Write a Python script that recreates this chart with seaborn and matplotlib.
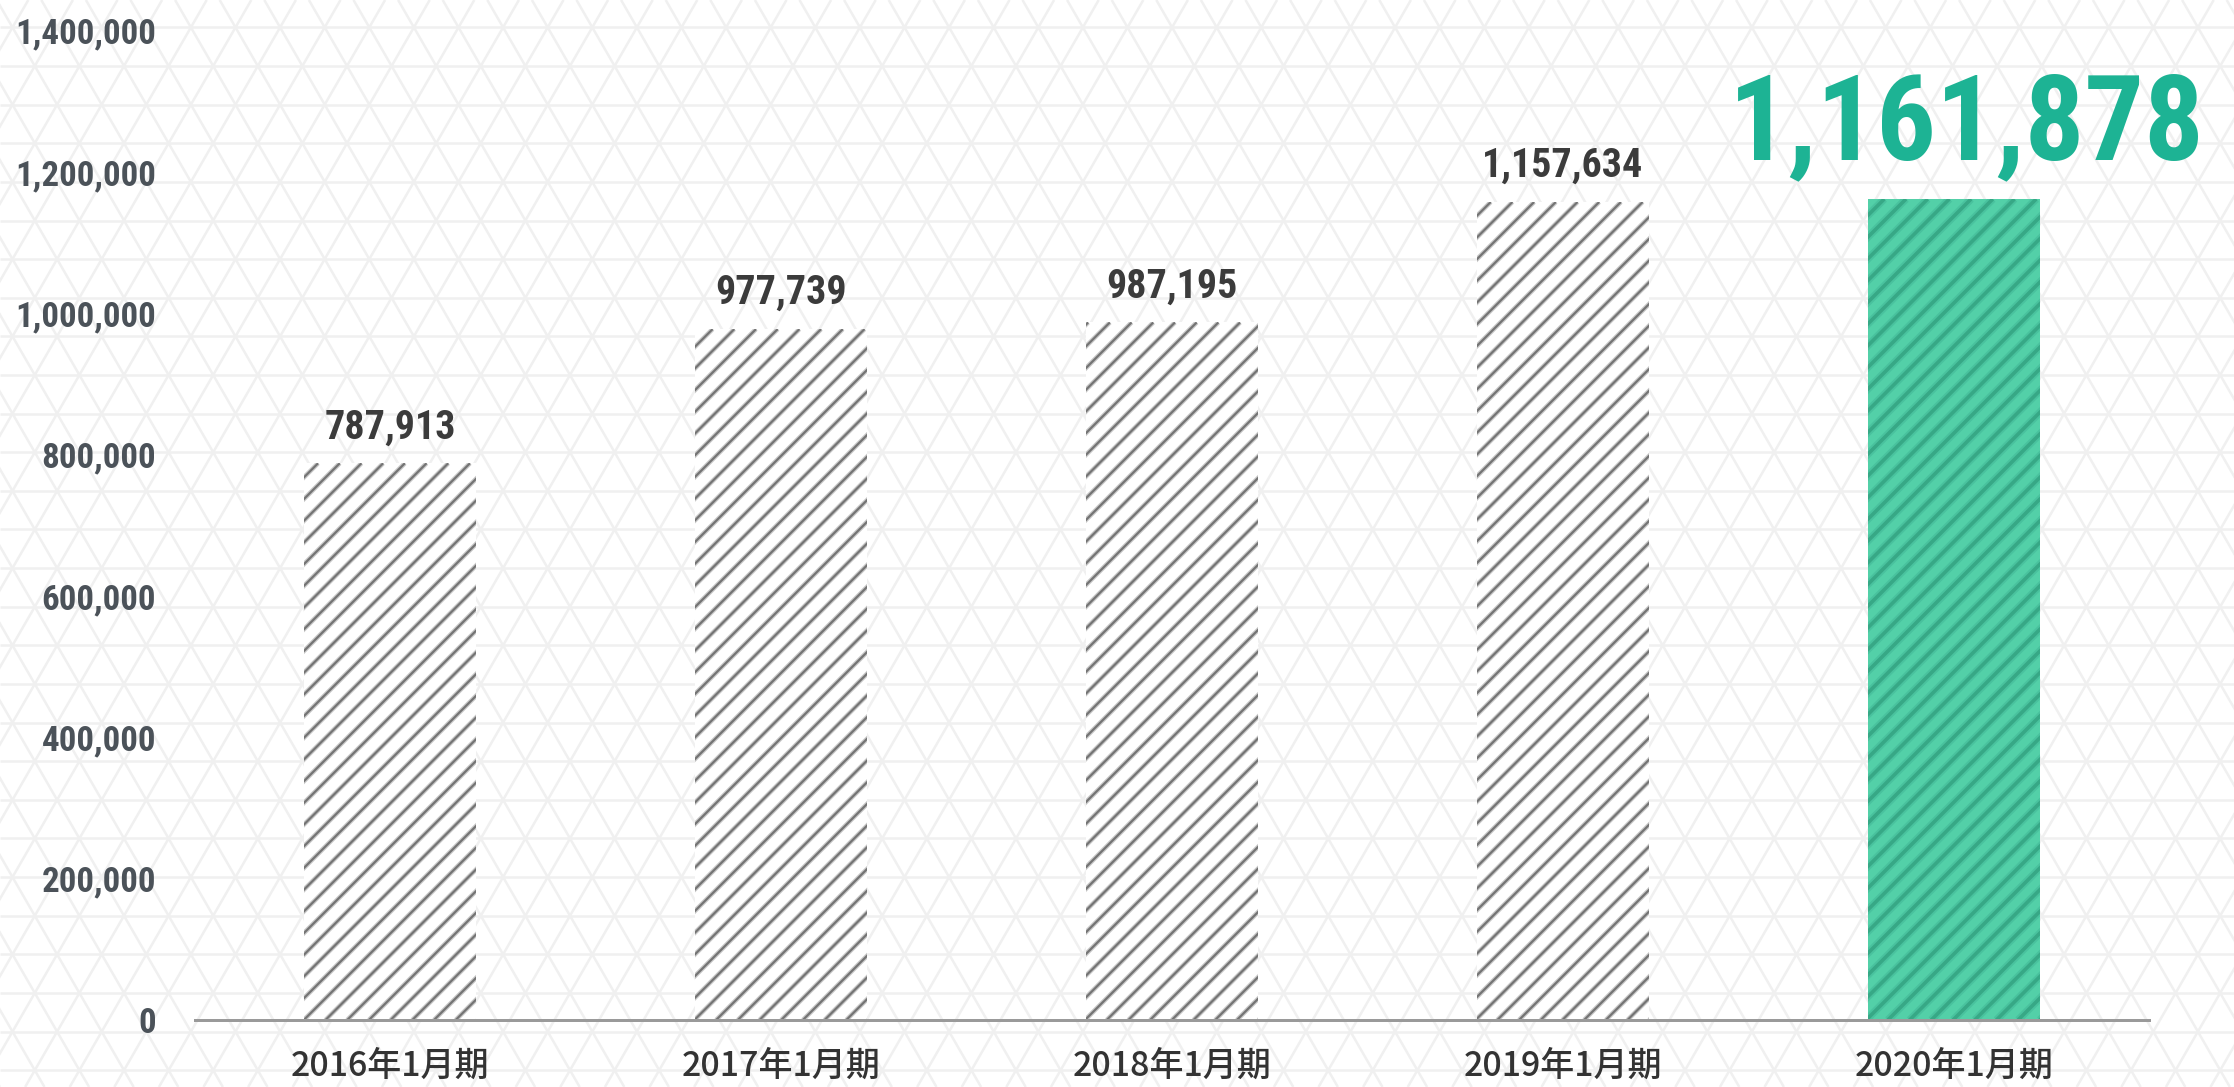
import os
import numpy as np
import pandas as pd
import matplotlib
matplotlib.use("Agg")
import matplotlib.pyplot as plt
import seaborn as sns
from matplotlib import font_manager as fm
from matplotlib.collections import LineCollection
from matplotlib.transforms import IdentityTransform

# ---- data -------------------------------------------------------------
periods = ["2016年1月期", "2017年1月期", "2018年1月期", "2019年1月期", "2020年1月期"]
values = [787913, 977739, 987195, 1157634, 1161878]
y_ticks = [0, 200000, 400000, 600000, 800000, 1000000, 1200000, 1400000]
highlight = "2020年1月期"

# ---- canvas -----------------------------------------------------------
DPI = 130
W, H = 2234, 1087
PT = 72.0 / DPI  # points per pixel

sns.set_theme(style="white")
plt.rcParams["font.family"] = ["Noto Sans CJK JP", "DejaVu Sans"]


def find_font(patterns):
    files = [f.fname for f in fm.fontManager.ttflist
             if "italic" not in os.path.basename(f.fname).lower()]
    for pat in patterns:
        for fn in files:
            if pat.lower() in os.path.basename(fn).lower():
                return fn
    return None


num_file = find_font(["Oswald-Bold", "Oswald-SemiBold", "RobotoCondensed-Bold.",
                      "LiberationSansNarrow-Bold.", "NotoSans-CondensedBold",
                      "DejaVuSansCondensed-Bold"])


def num_font(size_px):
    if num_file:
        fp = fm.FontProperties(fname=num_file)
    else:
        fp = fm.FontProperties(family="DejaVu Sans", weight="bold")
    fp.set_size(size_px * PT)
    return fp


fig = plt.figure(figsize=(W / DPI, H / DPI), dpi=DPI, facecolor="white")

# ---- background lattice ----------------------------------------------
bg = fig.add_axes([0, 0, 1, 1], zorder=0)
bg.set_xlim(0, W)
bg.set_ylim(H, 0)
bg.axis("off")

step = 44.6
row_h = step * np.sqrt(3) / 2
vx, vy = 1685.0, 375.0
s3 = np.sqrt(3)
segs = []
for y in np.arange(vy % row_h, H + 1, row_h):
    segs.append([(0, y), (W, y)])
c0 = vx - vy / s3
for c in np.arange(c0 - step * np.ceil((c0 + H / s3) / step), W + step, step):
    segs.append([(c, 0), (c + H / s3, H)])
d0 = vx + vy / s3
for d in np.arange(d0 - step * np.ceil(d0 / step), W + H / s3 + step, step):
    segs.append([(d, 0), (d - H / s3, H)])
bg.add_collection(LineCollection(segs, colors="#f0f0f0", linewidths=2.5 * PT))

# ---- main axes --------------------------------------------------------
ax_left, ax_right, ax_base = 195, 2149, 1020
ymax = 1443500
ax = fig.add_axes([ax_left / W, (H - ax_base) / H, (ax_right - ax_left) / W, ax_base / H],
                  zorder=1)
ax.set_facecolor("none")

df = pd.DataFrame({"period": periods, "value": values})
fills = {p: ("#53d0a8" if p == highlight else "white") for p in periods}
sns.barplot(data=df, x="period", y="value", hue="period", palette=fills,
            legend=False, width=0.44, saturation=1, edgecolor="none",
            linewidth=0, ax=ax)

ax.set_xlim(-0.5, len(periods) - 0.5)
ax.set_ylim(0, ymax)
ax.set_xlabel("")
ax.set_ylabel("")

for side in ("top", "right", "left"):
    ax.spines[side].set_visible(False)
ax.spines["bottom"].set_color("#9a9a9a")
ax.spines["bottom"].set_linewidth(3 * PT)
ax.spines["bottom"].set_zorder(6)

ax.set_yticks(y_ticks)
ax.set_yticklabels([f"{t:,}" for t in y_ticks])
for lab in ax.get_yticklabels():
    lab.set_fontproperties(num_font(35))
    lab.set_color("#4b5259")
ax.tick_params(axis="y", length=0, pad=39 * PT)
ax.tick_params(axis="x", length=0, pad=29 * PT, labelsize=34 * PT,
               labelcolor="#333333")
for lab in ax.get_xticklabels():
    lab.set_fontweight("medium")

# ---- diagonal stripes inside each bar --------------------------------
bars = sorted(ax.patches, key=lambda p: p.get_x())
gap = 21.7
for patch, period in zip(bars, periods):
    (x0, y0) = ax.transData.transform((patch.get_x(), 0))
    (x1, y1) = ax.transData.transform((patch.get_x() + patch.get_width(),
                                       patch.get_height()))
    h = y1 - y0
    starts = np.arange(np.floor((x0 - h) / gap) * gap, x1 + gap, gap)
    lines = [[(c, y0), (c + h, y1)] for c in starts]
    if period == highlight:
        layers = [("#49c29e", 7.5), ("#37a886", 3.6)]
    else:
        layers = [("#c8c8c8", 4.6), ("#747474", 2.2)]
    for col, lw in layers:
        lc = LineCollection(lines, colors=col, linewidths=lw * PT,
                            transform=IdentityTransform(), zorder=3)
        ax.add_collection(lc, autolim=False)
        lc.set_clip_path(patch)

# ---- value labels -----------------------------------------------------
for patch, period, v in zip(bars, periods, values):
    cx = patch.get_x() + patch.get_width() / 2
    if period == highlight:
        ax.annotate(f"{v:,}", xy=(cx, v), xytext=(13 * PT, 40 * PT),
                    textcoords="offset points", ha="center", va="baseline",
                    fontproperties=num_font(118), color="#1db394",
                    annotation_clip=False, zorder=5)
    else:
        ax.annotate(f"{v:,}", xy=(cx, v), xytext=(0, 25 * PT),
                    textcoords="offset points", ha="center", va="baseline",
                    fontproperties=num_font(40), color="#3b3b3b",
                    annotation_clip=False, zorder=5)

fig.savefig("out.png", dpi=DPI, facecolor="white")
